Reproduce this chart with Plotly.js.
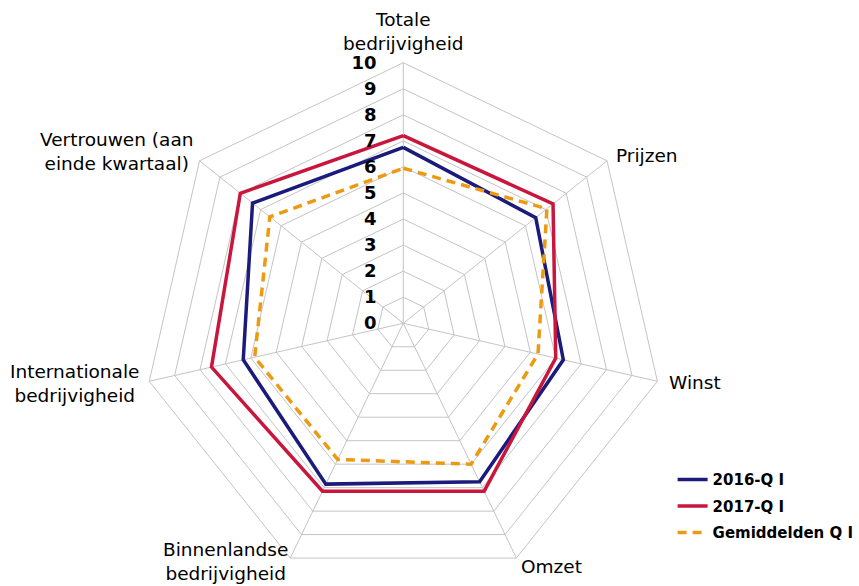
<!DOCTYPE html>
<html>
<head>
<meta charset="utf-8">
<script src="https://cdn.plot.ly/plotly-3.0.1.min.js"></script>
<style>
  html, body { margin: 0; padding: 0; background: #ffffff; }
  #chart { width: 859px; height: 586px; }
</style>
</head>
<body>
<div id="chart"></div>
<script>
// Axis categories (clockwise from top)
const categories = [
  "Totale bedrijvigheid",
  "Prijzen",
  "Winst",
  "Omzet",
  "Binnenlandse bedrijvigheid",
  "Internationale bedrijvigheid",
  "Vertrouwen (aan einde kwartaal)"
];
// Displayed axis labels (with line breaks)
const categoryLabels = [
  "Totale<br>bedrijvigheid",
  "Prijzen",
  "Winst",
  "Omzet",
  "Binnenlandse<br>bedrijvigheid",
  "Internationale<br>bedrijvigheid",
  "Vertrouwen (aan<br>einde kwartaal)"
];
// Series values
const seriesNames = ["2016-Q I", "2017-Q I", "Gemiddelden Q I"];
const values2016 = [6.75, 6.5, 6.3, 6.75, 6.85, 6.3, 7.4];
const values2017 = [7.2, 7.35, 6.0, 7.15, 7.15, 7.55, 8.0];
const valuesAvg  = [5.95, 7.05, 5.3, 6.0, 5.8, 5.85, 6.55];
// Radial ticks
const radialTicks = [0, 1, 2, 3, 4, 5, 6, 7, 8, 9, 10];

function closed(arr) { return arr.concat([arr[0]]); }

const W = 859, H = 586;
const colors = ["#1b1b7c", "#c8163c", "#ec9a12"];
const dashes = ["solid", "solid", "9px,6px"];
const allValues = [values2016, values2017, valuesAvg];

const traces = allValues.map((vals, i) => ({
  type: "scatterpolar",
  mode: "lines",
  name: seriesNames[i],
  r: closed(vals),
  theta: closed(categories),
  line: { color: colors[i], width: 3.5, dash: dashes[i] },
  legendgroup: "g" + i,
  hoverinfo: "skip"
}));

// Label placement (pixels from top-left) for the category labels
const labelPlacement = [
  { px: 403, py: 31,  xanchor: "center" },
  { px: 614, py: 155, xanchor: "left" },
  { px: 667, py: 382, xanchor: "left" },
  { px: 519, py: 566, xanchor: "left" },
  { px: 225, py: 561, xanchor: "center" },
  { px: 74,  py: 383, xanchor: "center" },
  { px: 116, py: 152, xanchor: "center" }
];

const annotations = categoryLabels.map((txt, i) => ({
  text: txt,
  xref: "paper", yref: "paper",
  x: labelPlacement[i].px / W,
  y: 1 - labelPlacement[i].py / H,
  xanchor: labelPlacement[i].xanchor,
  yanchor: "middle",
  align: "center",
  showarrow: false,
  font: { family: "DejaVu Sans, Verdana, sans-serif", size: 18.5, color: "#000000" }
}));

const layout = {
  width: W,
  height: H,
  margin: { l: 0, r: 0, t: 0, b: 0 },
  paper_bgcolor: "#ffffff",
  plot_bgcolor: "#ffffff",
  font: { family: "DejaVu Sans, Verdana, sans-serif", color: "#000000" },
  showlegend: true,
  annotations: annotations,
  legend: {
    x: 0.783,
    y: 0.2095,
    xanchor: "left",
    yanchor: "top",
    font: { family: "DejaVu Sans, Verdana, sans-serif", size: 15, color: "#000000", weight: "bold" },
    tracegroupgap: 4,
    bgcolor: "rgba(0,0,0,0)"
  },
  polar: {
    domain: { x: [0.1661, 0.7729], y: [0.0036, 0.893] },
    gridshape: "linear",
    bgcolor: "#ffffff",
    radialaxis: {
      range: [0, 10],
      tickvals: radialTicks,
      ticktext: radialTicks.map(String),
      angle: 90,
      side: "counterclockwise",
      showline: false,
      ticks: "outside",
      ticklen: 20,
      tickcolor: "rgba(0,0,0,0)",
      tickangle: 90,
      gridcolor: "#c4c4c4",
      gridwidth: 1,
      tickfont: { family: "DejaVu Sans, Verdana, sans-serif", size: 18, color: "#000000", weight: "bold" },
      layer: "above traces"
    },
    angularaxis: {
      type: "category",
      categoryarray: categories,
      direction: "clockwise",
      rotation: 90,
      showline: true,
      linecolor: "#c4c4c4",
      linewidth: 1,
      gridcolor: "#c4c4c4",
      gridwidth: 1,
      ticks: "",
      showticklabels: false
    }
  }
};

Plotly.newPlot("chart", traces, layout, { displayModeBar: false, staticPlot: true });
</script>
</body>
</html>
